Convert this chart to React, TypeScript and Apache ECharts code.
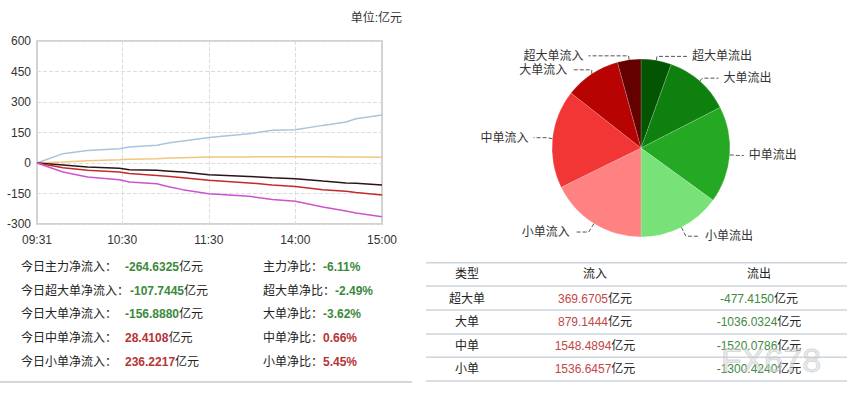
import React, { useEffect, useRef } from "react";
import * as echarts from "echarts";

// ---- line chart data (亿元) ----
const sampleTimes = ["09:31", "09:49", "10:06", "10:28", "10:35", "10:54", "11:03", "11:12", "11:30", "13:28", "13:44", "14:00", "14:19", "14:35", "14:42", "15:00"];
const smallNet = [0, 46, 62, 70, 79, 87, 100, 108, 125, 144, 161, 164, 185, 202, 218, 236.2217];
const mediumNet = [0, 5, 11, 16, 18, 21, 24, 26, 30, 30, 31, 31, 31, 30, 30, 28.4108];
const superNet = [0, -10, -20, -26, -33, -36, -40, -44, -58, -66, -72, -77, -89, -98, -100, -107.7445];
const largeNet = [0, -23, -36, -44, -52, -61, -66, -72, -85, -98, -108, -115, -131, -139, -145, -156.888];
const mainNet = [0, -44, -69, -82, -93, -102, -118, -131, -151, -164, -180, -188, -216, -236, -246, -264.6325];
const xTickLabels = ["09:31", "10:30", "11:30", "14:00", "15:00"];
const xSplitLabels = ["10:30", "11:30", "14:00"];

// ---- summary ----
const netLabels = ["今日主力净流入：", "今日超大单净流入：", "今日大单净流入：", "今日中单净流入：", "今日小单净流入："];
const netValues = ["-264.6325", "-107.7445", "-156.8880", "28.4108", "236.2217"];
const ratioLabels = ["主力净比：", "超大单净比：", "大单净比：", "中单净比：", "小单净比："];
const ratioValues = ["-6.11%", "-2.49%", "-3.62%", "0.66%", "5.45%"];

// ---- table / pie ----
const types = ["超大单", "大单", "中单", "小单"];
const inflow = [369.6705, 879.1444, 1548.4894, 1536.6457];
const outflow = [477.415, 1036.0324, 1520.0786, 1300.424];
const outColors = ["#035503", "#0d800d", "#25a925", "#78e278"];
const inColors = ["#640000", "#b80303", "#f23636", "#ff8282"];
// label-line sizes per slice: [length, length2]
const outLines = [[4, 30], [4, 16], [8, 6], [10, 14]];
const inLines = [[4, 40], [8, 20], [10, 14], [10, 14]];

const pad = (n: number) => (n < 10 ? "0" + n : "" + n);
const categories: string[] = [];
for (let i = 0; i < 240; i++) {
  const t = i < 120 ? 9 * 60 + 31 + i : 13 * 60 + 1 + (i - 120);
  categories.push(pad(Math.floor(t / 60)) + ":" + pad(t % 60));
}

const FONT = "'Liberation Sans', Arial, 'Noto Sans CJK SC', sans-serif";
const GREEN = "#3b8a3b";
const RED = "#b53535";

export default function App() {
  const ref = useRef<HTMLDivElement>(null);
  useEffect(() => {
    if (!ref.current) return;
    const chart = echarts.init(ref.current, undefined, { renderer: "svg" });
    const mk = (name: string, vals: number[], color: string) => ({
      name,
      type: "line",
      data: sampleTimes.map((t, i) => [t, vals[i]]),
      showSymbol: false,
      symbol: "none",
      lineStyle: { color, width: 1.5 },
      itemStyle: { color },
      z: 3,
    });

    const graphics: any[] = [];
    graphics.push({
      type: "text",
      x: 402,
      y: 18,
      style: { text: "单位:亿元", fontSize: 12, fontFamily: FONT, fill: "#333", align: "right", verticalAlign: "middle" },
    });
    netLabels.forEach((lab, k) => {
      const y = 267 + 23.7 * k;
      const v = netValues[k];
      const col = v.startsWith("-") ? GREEN : RED;
      graphics.push({
        type: "text",
        x: 21,
        y,
        style: { text: lab, fontSize: 12, fontFamily: FONT, fill: "#222", verticalAlign: "middle" },
      });
      graphics.push({
        type: "text",
        x: Math.max(125, 21 + lab.length * 12 + 1),
        y,
        style: {
          text: "{v|" + v + "}{u|亿元}",
          verticalAlign: "middle",
          rich: {
            v: { fontSize: 12, fontWeight: "bold", fontFamily: FONT, fill: col },
            u: { fontSize: 12, fontFamily: FONT, fill: "#222" },
          },
        },
      });
      const r = ratioValues[k];
      const rc = r.startsWith("-") ? GREEN : RED;
      graphics.push({
        type: "text",
        x: 263,
        y,
        style: {
          text: "{l|" + ratioLabels[k] + "}{v|" + r + "}",
          verticalAlign: "middle",
          rich: {
            l: { fontSize: 12, fontFamily: FONT, fill: "#222" },
            v: { fontSize: 12, fontWeight: "bold", fontFamily: FONT, fill: rc },
          },
        },
      });
    });
    graphics.push({ type: "line", shape: { x1: 0, y1: 382, x2: 412, y2: 382 }, style: { stroke: "#d6d6d6", lineWidth: 2 } });

    // right table
    [262.7, 286, 310, 334, 357.3, 381].forEach((ly) => {
      graphics.push({ type: "line", shape: { x1: 426, y1: ly, x2: 847, y2: ly }, style: { stroke: "#cdd5dd", lineWidth: 1.5 } });
    });
    const cols = [467, 595, 759];
    ["类型", "流入", "流出"].forEach((h, c) => {
      graphics.push({
        type: "text",
        x: cols[c],
        y: 274,
        style: { text: h, fontSize: 12, fontFamily: FONT, fill: "#222", align: "center", verticalAlign: "middle" },
      });
    });
    types.forEach((t, k) => {
      const y = 298.5 + 23.6 * k;
      graphics.push({
        type: "text",
        x: cols[0],
        y,
        style: { text: t, fontSize: 12, fontFamily: FONT, fill: "#222", align: "center", verticalAlign: "middle" },
      });
      graphics.push({
        type: "text",
        x: cols[1],
        y,
        style: {
          text: "{v|" + inflow[k].toFixed(4) + "}{u|亿元}",
          align: "center",
          verticalAlign: "middle",
          rich: {
            v: { fontSize: 12, fontFamily: FONT, fill: "#c04848" },
            u: { fontSize: 12, fontFamily: FONT, fill: "#222" },
          },
        },
      });
      graphics.push({
        type: "text",
        x: cols[2],
        y,
        style: {
          text: "{v|-" + outflow[k].toFixed(4) + "}{u|亿元}",
          align: "center",
          verticalAlign: "middle",
          rich: {
            v: { fontSize: 12, fontFamily: FONT, fill: "#3f8a3f" },
            u: { fontSize: 12, fontFamily: FONT, fill: "#222" },
          },
        },
      });
    });
    graphics.push({
      type: "text",
      x: 771,
      y: 360,
      z: 100,
      style: {
        text: "FX678",
        fontSize: 34,
        fontFamily: "'Liberation Sans', Arial, sans-serif",
        fill: "rgba(215,215,215,0.55)",
        stroke: "rgba(170,170,170,0.5)",
        lineWidth: 0.8,
        align: "center",
        verticalAlign: "middle",
      },
    });

    const pieData = [
      ...types.map((t, k) => ({
        name: t + "流出",
        value: outflow[k],
        itemStyle: { color: outColors[k] },
        labelLine: { length: outLines[k][0], length2: outLines[k][1] },
      })),
      ...types
        .map((t, k) => ({
          name: t + "流入",
          value: inflow[k],
          itemStyle: { color: inColors[k] },
          labelLine: { length: inLines[k][0], length2: inLines[k][1] },
        }))
        .reverse(),
    ];

    chart.setOption({
      animation: false,
      textStyle: { fontFamily: FONT },
      grid: {
        left: 37,
        top: 41,
        right: 850 - 382,
        bottom: 396 - 224,
        show: true,
        borderColor: "#d2d2d2",
        borderWidth: 2,
        backgroundColor: "transparent",
      },
      xAxis: {
        type: "category",
        data: categories,
        boundaryGap: false,
        axisLine: { show: false },
        axisTick: { show: false },
        axisLabel: {
          interval: (_i: number, v: string) => xTickLabels.includes(v),
          color: "#333",
          fontSize: 12,
          margin: 10,
          showMaxLabel: true,
          showMinLabel: true,
        },
        splitLine: {
          show: true,
          interval: (_i: number, v: string) => xSplitLabels.includes(v),
          lineStyle: { color: "#dcdcdc", type: "dashed", width: 1 },
        },
      },
      yAxis: {
        type: "value",
        min: -300,
        max: 600,
        interval: 150,
        axisLine: { show: false },
        axisTick: { show: false },
        axisLabel: { color: "#333", fontSize: 12, margin: 6 },
        splitLine: { lineStyle: { color: "#dcdcdc", type: "dashed", width: 1 } },
      },
      series: [
        mk("小单", smallNet, "#a9c5dd"),
        mk("中单", mediumNet, "#f3c57c"),
        mk("超大单", superNet, "#2b1414"),
        mk("大单", largeNet, "#c52a2a"),
        mk("主力", mainNet, "#cf52cf"),
        {
          type: "pie",
          center: [641, 148],
          radius: 89,
          startAngle: 90,
          clockwise: true,
          data: pieData,
          itemStyle: { borderColor: "rgba(255,255,255,0.35)", borderWidth: 0.5 },
          label: { fontSize: 12, color: "#333", fontFamily: FONT },
          labelLine: { length: 10, length2: 14, lineStyle: { color: "#555", type: "dashed", width: 1 } },
          emphasis: { disabled: true },
        },
      ],
      graphic: graphics,
    });
    return () => chart.dispose();
  }, []);
  return (
    <div
      ref={ref}
      style={{ position: "absolute", left: 0, top: 0, width: 850, height: 396, background: "#fff" }}
    />
  );
}
